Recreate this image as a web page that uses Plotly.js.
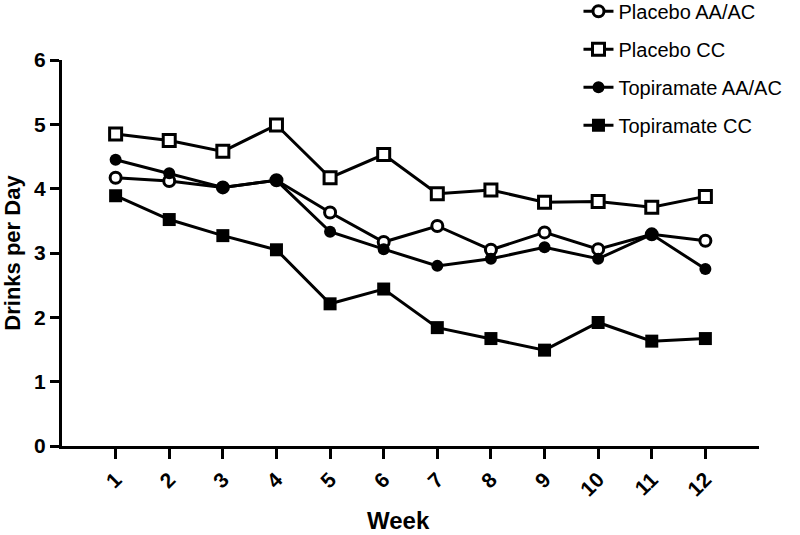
<!DOCTYPE html>
<html>
<head>
<meta charset="utf-8">
<script src="https://cdn.plot.ly/plotly-3.0.1.min.js"></script>
<style>html,body{margin:0;padding:0;background:#fff}#chart{width:800px;height:535px}</style>
</head>
<body>
<div id="chart"></div>
<script>
var weeks = [1,2,3,4,5,6,7,8,9,10,11,12];
var weekLabels = ["1","2","3","4","5","6","7","8","9","10","11","12"];
var placeboAA = [4.17,4.12,4.02,4.13,3.63,3.17,3.42,3.05,3.32,3.06,3.29,3.19];
var placeboCC = [4.85,4.75,4.58,4.99,4.17,4.53,3.92,3.98,3.79,3.80,3.71,3.88];
var topiramateAA = [4.45,4.24,4.02,4.13,3.33,3.06,2.80,2.91,3.09,2.91,3.29,2.75];
var topiramateCC = [3.89,3.52,3.27,3.05,2.21,2.44,1.84,1.67,1.49,1.92,1.63,1.67];
var yTicks = [0,1,2,3,4,5,6];

var FONT = "Liberation Sans, Arial, Helvetica, sans-serif";
function tr(name, y, symbol, fill, size, lw){
  return {
    x: weeks, y: y, name: name, type: 'scatter', mode: 'lines+markers',
    legendgroup: name,
    line: {color: '#000', width: 3},
    marker: {symbol: symbol, size: size, color: fill, line: {color: '#000', width: lw}},
    cliponaxis: false
  };
}
var data = [
  tr('Placebo AA/AC', placeboAA, 'circle', '#fff', 11, 3),
  tr('Placebo CC', placeboCC, 'square', '#fff', 12, 3),
  tr('Topiramate AA/AC', topiramateAA, 'circle', '#000', 12, 0),
  tr('Topiramate CC', topiramateCC, 'square', '#000', 13, 0)
];
var layout = {
  width: 800, height: 535,
  margin: {l: 62, r: 41, t: 60, b: 89, autoexpand: false},
  paper_bgcolor: '#fff', plot_bgcolor: '#fff',
  font: {family: FONT, color: '#000'},
  showlegend: true,
  legend: {
    x: 0.741, y: 1.177, xanchor: 'left', yanchor: 'top',
    font: {family: FONT, size: 20, color: '#000'},
    traceorder: 'grouped', tracegroupgap: 9,
    bgcolor: 'rgba(0,0,0,0)'
  },
  xaxis: {
    range: [0, 13], tickmode: 'array', tickvals: weeks, ticktext: weekLabels,
    tickangle: -45, ticks: 'outside', ticklen: 10, tickwidth: 3, tickcolor: '#000',
    showline: true, linewidth: 3, linecolor: '#000', showgrid: false, zeroline: false,
    tickfont: {family: FONT, size: 21, color: '#000', weight: 'bold'}
  },
  yaxis: {
    range: [0, 6], tickmode: 'array', tickvals: yTicks,
    ticks: 'outside', ticklen: 9, tickwidth: 3, tickcolor: '#000',
    showline: true, linewidth: 3, linecolor: '#000', showgrid: false, zeroline: false,
    tickfont: {family: FONT, size: 21, color: '#000', weight: 'bold'},
    title: {text: '<b>Drinks per Day</b>', font: {family: FONT, size: 22, color: '#000'}, standoff: 10}
  },
  annotations: [{
    text: '<b>Week</b>', xref: 'paper', yref: 'paper', x: 0.4835, y: -0.192,
    xanchor: 'center', yanchor: 'middle', showarrow: false, borderpad: 0,
    font: {family: FONT, size: 24, color: '#000'}
  }]
};
Plotly.newPlot('chart', data, layout, {displayModeBar: false, staticPlot: true});
</script>
</body>
</html>
